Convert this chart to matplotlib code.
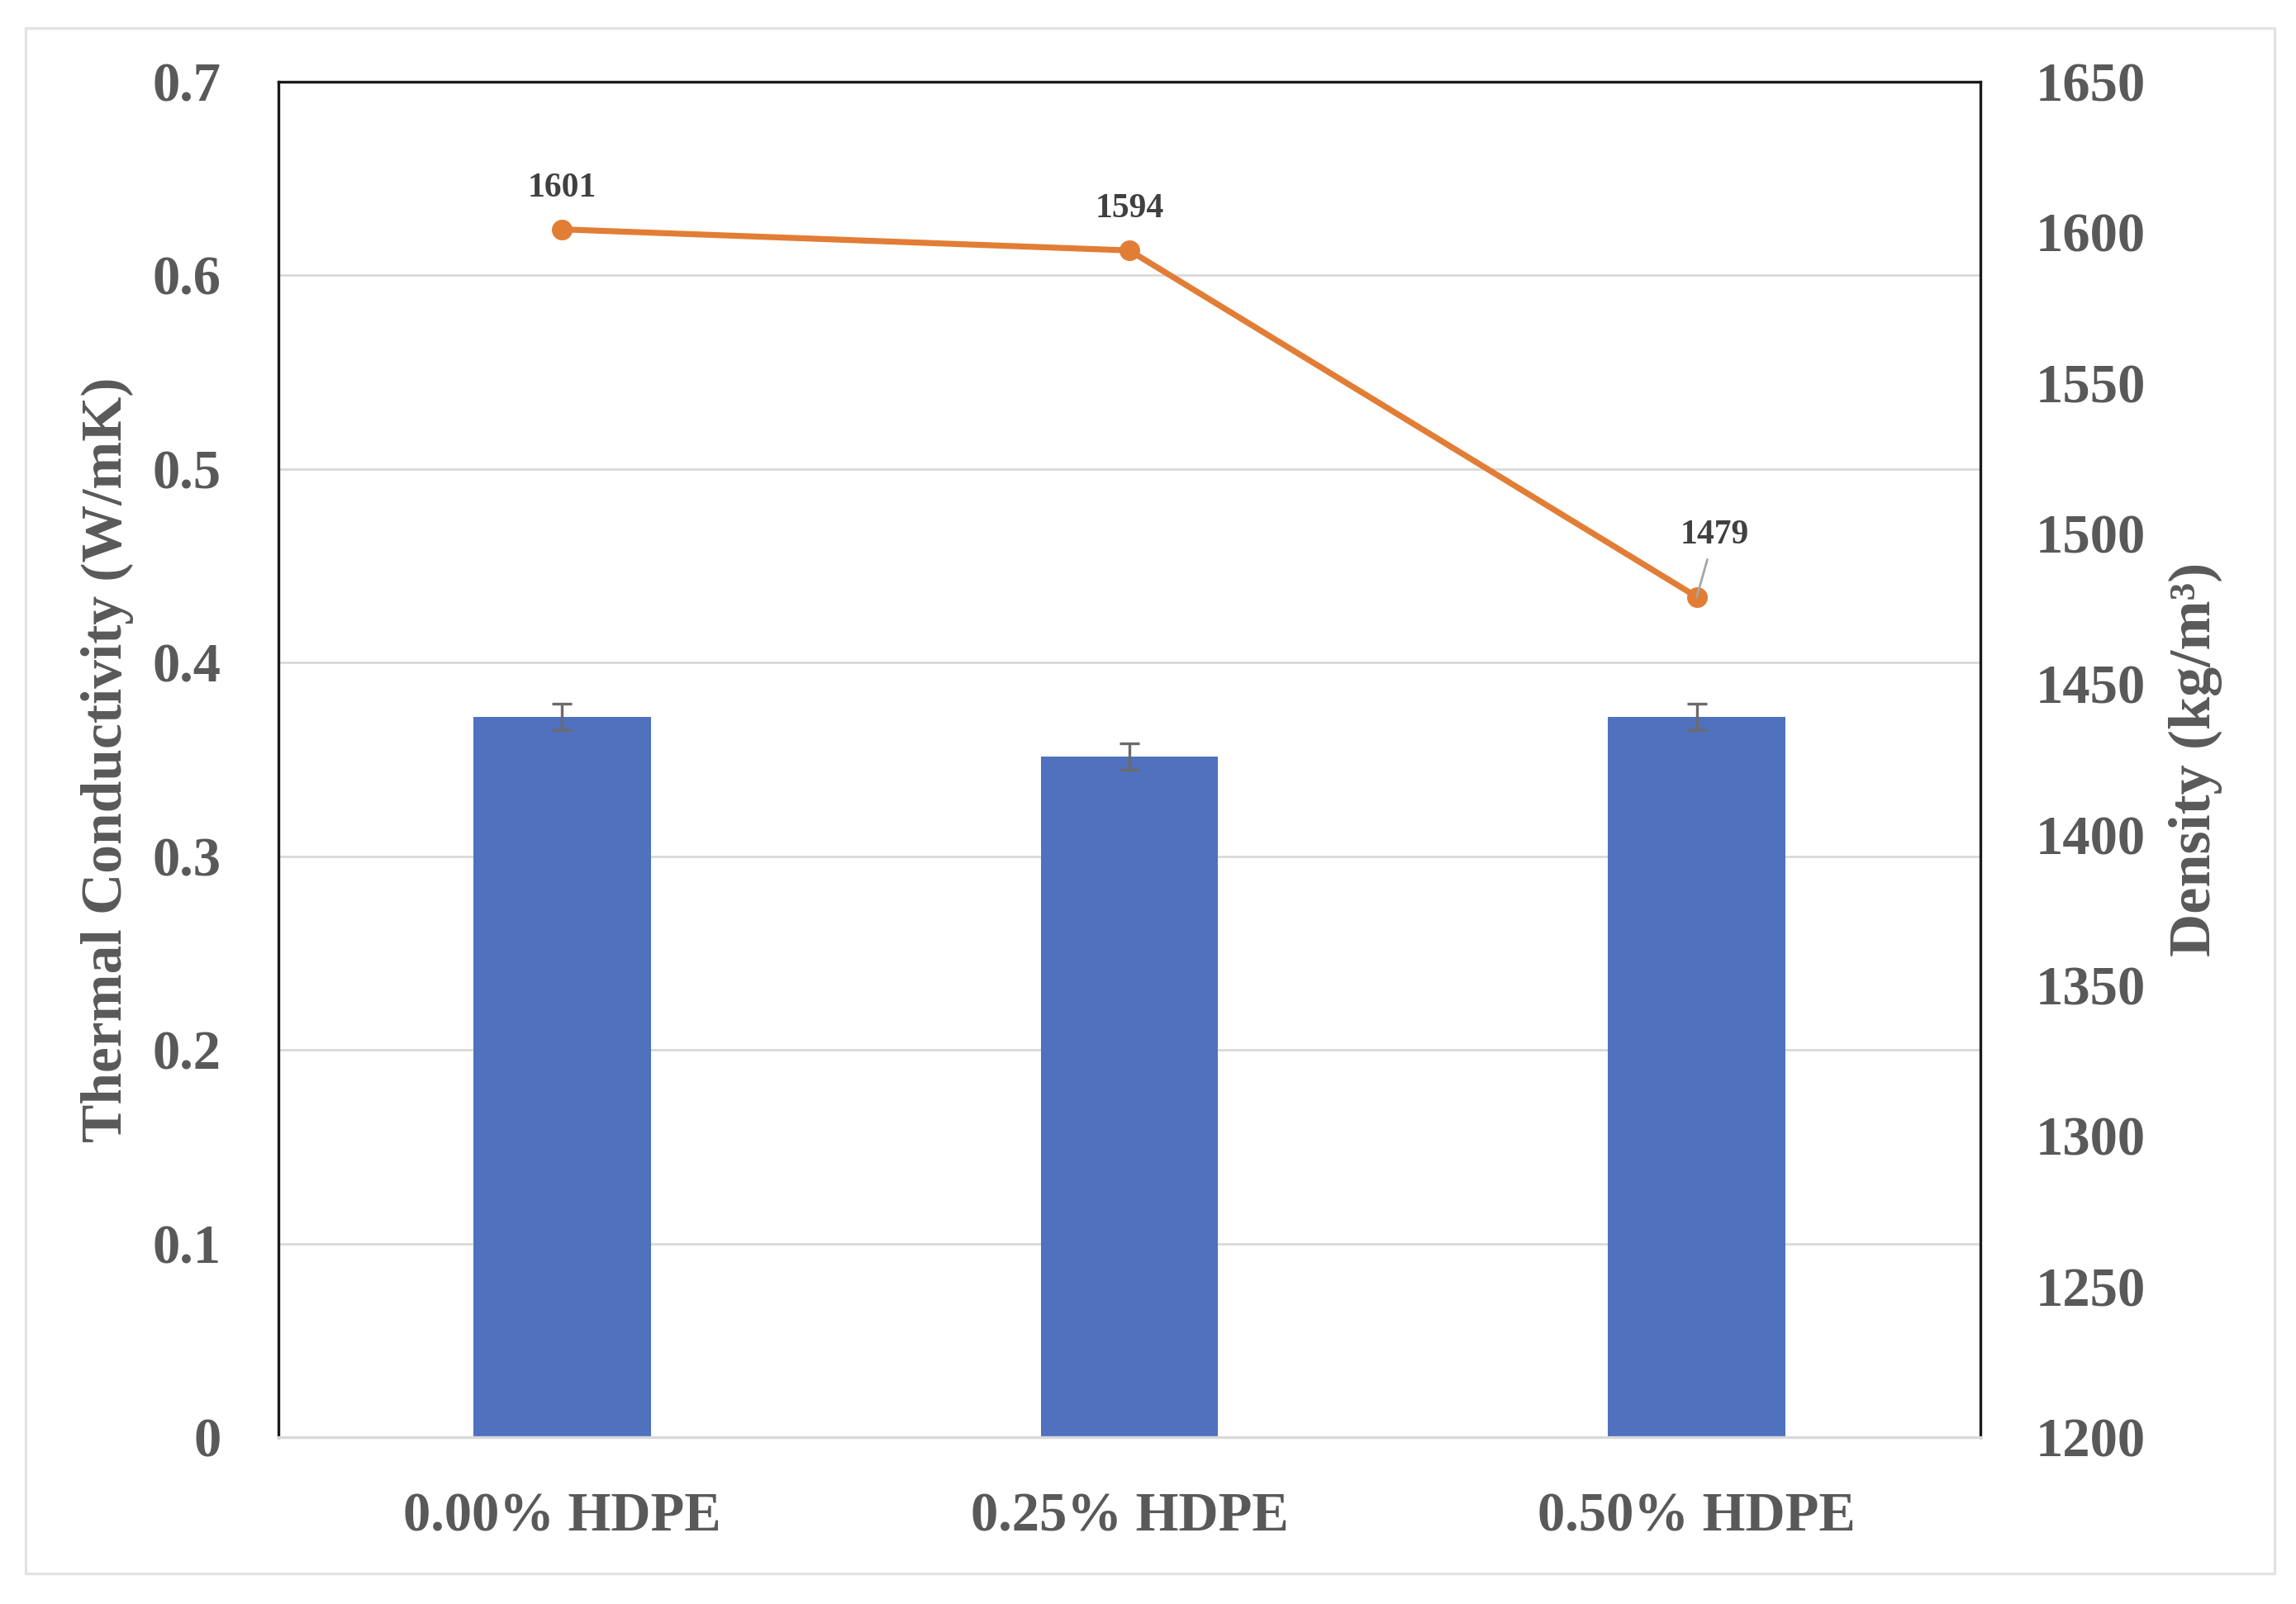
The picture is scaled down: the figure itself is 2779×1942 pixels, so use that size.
import matplotlib
matplotlib.use("Agg")
import matplotlib.pyplot as plt
from matplotlib.patches import Rectangle

# data
categories = ["0.00% HDPE", "0.25% HDPE", "0.50% HDPE"]
conductivity = [0.372, 0.3515, 0.372]
conductivity_err = [0.007, 0.007, 0.007]
density = [1601, 1594, 1479]

left_ticks = [0, 0.1, 0.2, 0.3, 0.4, 0.5, 0.6, 0.7]
left_ticklabels = ["0", "0.1", "0.2", "0.3", "0.4", "0.5", "0.6", "0.7"]
right_ticks = [1200, 1250, 1300, 1350, 1400, 1450, 1500, 1550, 1600, 1650]

TEXT = "#595959"
BAR = "#4F71BE"
LINE = "#E27D36"
GRID = "#D9D9D9"
FONT = "Liberation Serif"

plt.rcParams["font.family"] = [FONT, "DejaVu Serif"]
plt.rcParams["font.weight"] = "bold"
plt.rcParams["axes.labelweight"] = "bold"

fig = plt.figure(figsize=(2779 / 200, 1942 / 200), dpi=200)
fig.patches.append(Rectangle((31 / 2779, 1 - 1905 / 1942), (2753 - 31) / 2779, (1905 - 34) / 1942,
                             transform=fig.transFigure, fill=False, edgecolor="#E3E3E3", lw=1.2))

ax = fig.add_axes([337 / 2779, 1 - 1740 / 1942, (2397 - 337) / 2779, (1740 - 99) / 1942])
x = range(len(categories))
ax.bar(x, conductivity, width=0.313, color=BAR, zorder=2,
       yerr=conductivity_err, error_kw=dict(ecolor="#6B6B6B", elinewidth=1.2, capsize=4.2, capthick=1.2))
ax.set_xlim(-0.5, 2.5)
ax.set_ylim(0, 0.7)
ax.set_yticks(left_ticks)
ax.set_yticklabels(left_ticklabels)
ax.set_xticks(list(x))
ax.set_xticklabels(categories)
ax.yaxis.grid(True, color=GRID, lw=1.0)
ax.set_axisbelow(True)
ax.tick_params(length=0, labelsize=24, labelcolor=TEXT)
ax.tick_params(axis="y", pad=25)
ax.tick_params(axis="x", pad=24)
for s in ["left", "top", "right"]:
    ax.spines[s].set_color("#1A1A1A")
    ax.spines[s].set_linewidth(1.2)
ax.spines["bottom"].set_color(GRID)
ax.spines["bottom"].set_linewidth(1.2)
ax.set_ylabel("Thermal Conductivity (W/mK)", fontsize=25, fontweight="bold", color=TEXT, labelpad=8)

ax2 = ax.twinx()
ax2.plot(list(x), density, color=LINE, lw=2.6, marker="o", markersize=8, zorder=3)
ax2.set_ylim(1200, 1650)
ax2.set_yticks(right_ticks)
ax2.tick_params(length=0, labelsize=24, labelcolor=TEXT, pad=24)
for s in ax2.spines.values():
    s.set_visible(False)
ax2.set_ylabel("Density (kg/m³)", fontsize=26, fontweight="bold", color=TEXT, labelpad=10)

for i, d in enumerate(density):
    if i < 2:
        ax2.annotate(str(d), (i, d), xytext=(0, 18), textcoords="offset points",
                     ha="center", va="center", fontsize=15, color="#404040")
    else:
        ax2.annotate(str(d), (i, d), xytext=(7.7, 27), textcoords="offset points",
                     ha="center", va="center", fontsize=15, color="#404040",
                     arrowprops=dict(arrowstyle="-", color="#A6A6A6", lw=1, shrinkA=2, shrinkB=0))

fig.savefig("out.png", dpi=200, facecolor="white")
